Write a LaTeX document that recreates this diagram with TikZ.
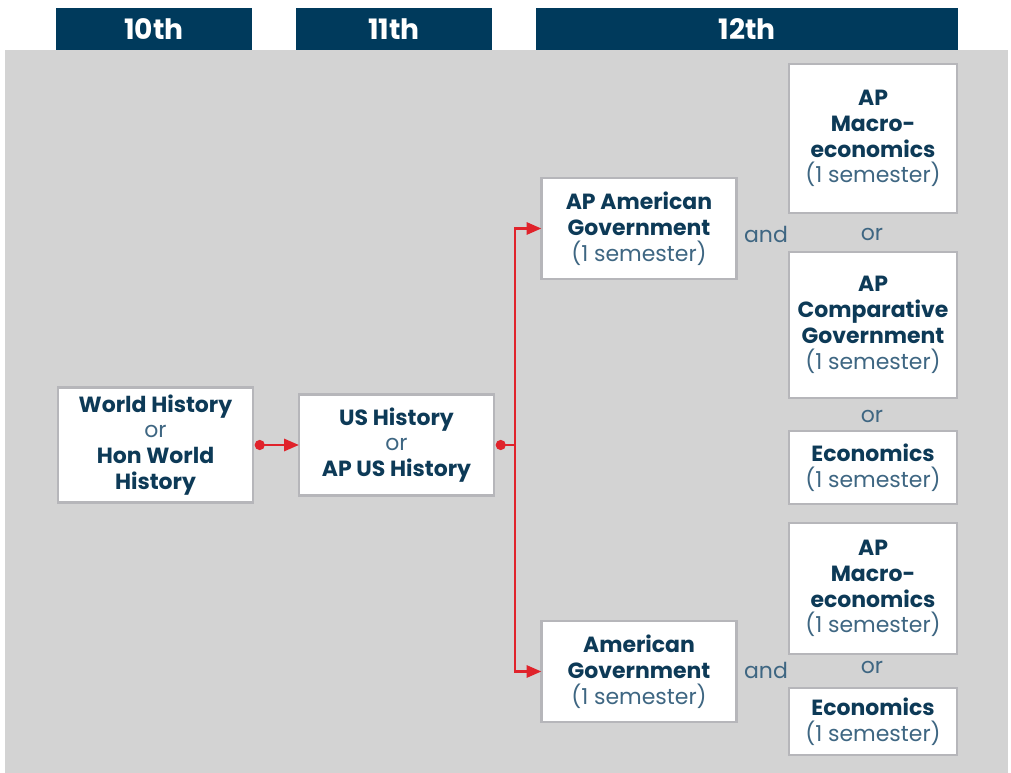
\documentclass[tikz,border=0pt]{standalone}
\usepackage{fontspec}
\setmainfont{Poppins}
\usepackage{tikz}
\usetikzlibrary{positioning, arrows.meta}

\definecolor{navy}{HTML}{003A5C}
\definecolor{inknavy}{HTML}{0D3A57}
\definecolor{softnavy}{HTML}{3E6682}
\definecolor{panel}{HTML}{D3D3D3}
\definecolor{frame}{HTML}{B6B6BA}
\definecolor{flow}{HTML}{E0232B}

\begin{document}
\begin{tikzpicture}[x=0.02cm,y=-0.02cm,
        grade/.style={fill=navy,text=white,font=\bfseries\fontsize{16}{18}\selectfont,inner sep=0pt,outer sep=0pt,minimum height=0.84cm},
        course/.style={rectangle,draw=frame,line width=1.6pt,fill=white,text=inknavy,align=center,inner sep=0pt,outer sep=0pt,font=\bfseries\fontsize{12.5}{14.7}\selectfont},
        wide/.style={minimum width=3.9cm},
        narrow/.style={minimum width=3.36cm},
        joiner/.style={text=softnavy,font=\fontsize{12.5}{14.7}\selectfont},
        link/.style={draw=flow,line width=1.7pt},
        dotfirst/.style={{Circle[length=0.2cm]}-,shorten <=1pt},
        arrowlast/.style={-{Triangle[length=0.3cm,width=0.24cm]}},
        dotarrow/.style={{Circle[length=0.2cm]}-{Triangle[length=0.3cm,width=0.24cm]},shorten <=1pt}]
        \useasboundingbox (0,0) rectangle (1011,773);
        \fill[panel] (5,50) rectangle (1008,773);

        % grade headers
        \node[grade,minimum width=3.92cm] (g10) at (154,29) {10th};
        \node[grade,minimum width=3.92cm] (g11) at (394,29) {11th};
        \node[grade,minimum width=8.44cm] (g12) at (747,29) {12th};

        % courses
        \node[course,wide,minimum height=2.3cm]  (wh)    at (155.5,445) {World History\\{\mdseries\color{softnavy}or}\\Hon World\\History};
        \node[course,wide,minimum height=2.02cm] (us)    at (396.5,445) {US History\\{\mdseries\color{softnavy}or}\\AP US History};
        \node[course,wide,minimum height=2.02cm] (apgov) at (639,228.5) {AP American\\Government\\{\mdseries\color{softnavy}(1 semester)}};
        \node[course,wide,minimum height=2.02cm] (amgov) at (639,671.5) {American\\Government\\{\mdseries\color{softnavy}(1 semester)}};

        \node[course,narrow,minimum height=2.98cm] (macroA) at (873,138.5) {AP\\Macro-\\economics\\{\mdseries\color{softnavy}(1 semester)}};
        \node[course,narrow,minimum height=2.92cm] (comp)   at (873,325)   {AP\\Comparative\\Government\\{\mdseries\color{softnavy}(1 semester)}};
        \node[course,narrow,minimum height=1.46cm] (econA)  at (873,467.5) {Economics\\{\mdseries\color{softnavy}(1 semester)}};
        \node[course,narrow,minimum height=2.62cm] (macroB) at (873,588.5) {AP\\Macro-\\economics\\{\mdseries\color{softnavy}(1 semester)}};
        \node[course,narrow,minimum height=1.34cm] (econB)  at (873,721.5) {Economics\\{\mdseries\color{softnavy}(1 semester)}};

        % and / or
        \node[joiner] (andA) at (766,234) {and};
        \node[joiner] (andB) at (766,670) {and};
        \node[joiner] (orA)  at (872,234) {or};
        \node[joiner] (orB)  at (872,416) {or};
        \node[joiner] (orC)  at (872,667) {or};

        % flow
        \coordinate (split) at (515,445);
        \draw[link,dotarrow] (wh) -- (us);
        \draw[link,dotfirst] (us) -- (split);
        \draw[link,arrowlast] (split) |- (apgov);
        \draw[link,arrowlast] (split) |- (amgov);
    \end{tikzpicture}
\end{document}
